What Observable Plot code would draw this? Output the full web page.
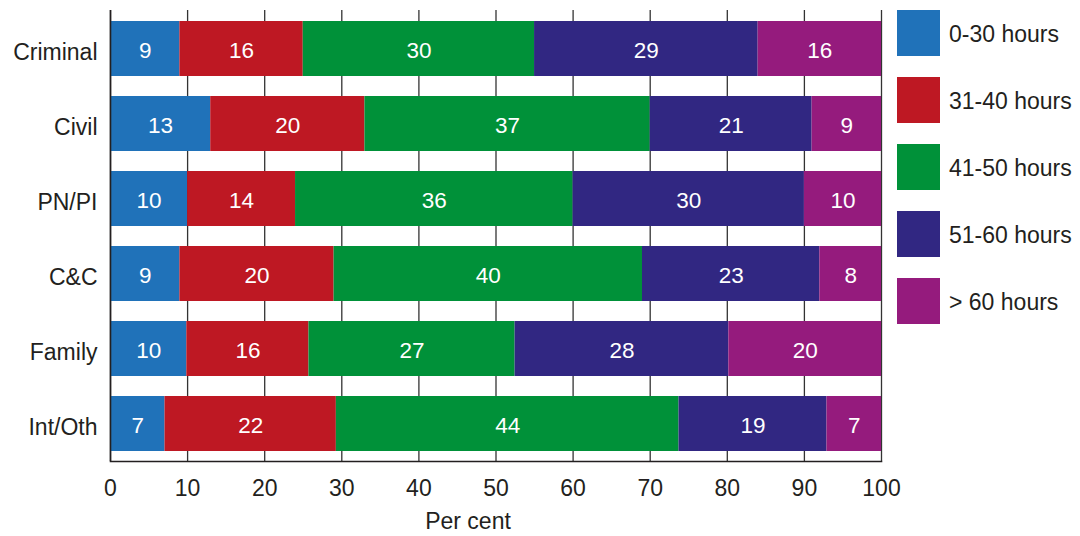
<!DOCTYPE html>
<html>
<head>
<meta charset="utf-8">
<script src="https://cdn.jsdelivr.net/npm/d3@7"></script>
<script src="https://cdn.jsdelivr.net/npm/@observablehq/plot@0.6"></script>
<style>
  html, body { margin: 0; padding: 0; background: #fff; }
  #wrap { position: relative; width: 1080px; height: 536px; font-family: "Liberation Sans", Arial, sans-serif; color: #231f20; }
  #legend { position: absolute; left: 897px; top: 10px; }
  .item { display: flex; align-items: center; height: 46px; margin-bottom: 21px; font-size: 23px; }
  .item span { position: relative; top: 1px; }
  .sw { width: 43px; height: 46px; margin-right: 9px; }
  #xlabel { position: absolute; left: 468px; top: 508px; transform: translateX(-50%); font-size: 23px; }
</style>
</head>
<body>
<div id="wrap"></div>
<script>
const categories = ["Criminal", "Civil", "PN/PI", "C&C", "Family", "Int/Oth"];
const groups = ["0-30 hours", "31-40 hours", "41-50 hours", "51-60 hours", "> 60 hours"];
const colors = ["#2072b9", "#be1823", "#009139", "#312782", "#951b7d"];
const criminal = [9, 16, 30, 29, 16];
const civil = [13, 20, 37, 21, 9];
const pnpi = [10, 14, 36, 30, 10];
const cc = [9, 20, 40, 23, 8];
const family = [10, 16, 27, 28, 20];
const intoth = [7, 22, 44, 19, 7];
const xTicks = [0, 10, 20, 30, 40, 50, 60, 70, 80, 90, 100];

const rows = [criminal, civil, pnpi, cc, family, intoth];
const data = categories.flatMap((c, i) => groups.map((g, j) => ({category: c, group: g, value: rows[i][j]})));

const chart = Plot.plot({
  width: 1080,
  height: 536,
  marginLeft: 110,
  marginRight: 199,
  marginTop: 10,
  marginBottom: 75,
  style: {fontFamily: "'Liberation Sans', Arial, sans-serif", fontSize: "23px", color: "#231f20", background: "transparent"},
  x: {percent: true, domain: [0, 100], ticks: xTicks, tickSize: 0, label: null},
  y: {domain: categories, paddingInner: 0.27, paddingOuter: 0.135, tickSize: 0, label: null},
  color: {domain: groups, range: colors},
  marks: [
    Plot.gridX({ticks: xTicks, stroke: "#333", strokeOpacity: 1, strokeWidth: 1.3}),
    Plot.barX(data, Plot.stackX({offset: "normalize", order: groups, x: "value", y: "category", fill: "group"})),
    Plot.text(data, Plot.stackX({offset: "normalize", order: groups, x: "value", y: "category", z: "group", text: "value", fill: "white", fontSize: 22.5, dy: 2})),
    Plot.ruleX([0], {stroke: "#231f20", strokeWidth: 1.6}),
    Plot.axisX({ticks: xTicks, tickSize: 0, tickPadding: 18, label: null, fontSize: 23}),
    Plot.axisY({tickSize: 0, tickPadding: 13, label: null, fontSize: 23, dy: 4}),
    Plot.frame({anchor: "bottom", stroke: "#231f20", strokeWidth: 1.6})
  ]
});

const wrap = document.getElementById("wrap");
wrap.appendChild(chart);

const legend = document.createElement("div");
legend.id = "legend";
groups.forEach((g, i) => {
  const item = document.createElement("div");
  item.className = "item";
  const sw = document.createElement("div");
  sw.className = "sw";
  sw.style.background = colors[i];
  const t = document.createElement("span");
  t.textContent = g;
  item.appendChild(sw);
  item.appendChild(t);
  legend.appendChild(item);
});
wrap.appendChild(legend);

const xl = document.createElement("div");
xl.id = "xlabel";
xl.textContent = "Per cent";
wrap.appendChild(xl);
</script>
</body>
</html>
